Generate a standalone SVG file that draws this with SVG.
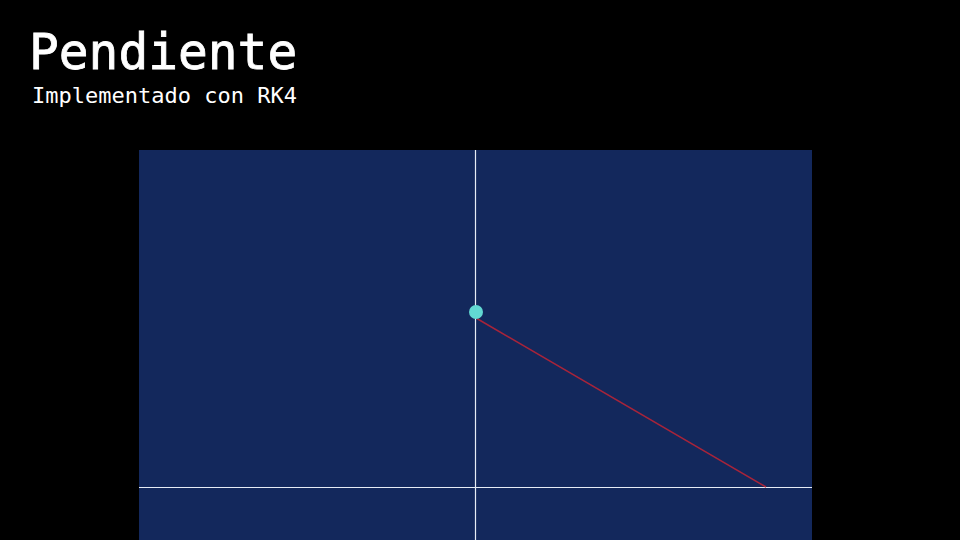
<svg xmlns="http://www.w3.org/2000/svg" width="960" height="540" viewBox="0 0 960 540">
<style>
.t{font-family:"DejaVu Sans Mono","Liberation Mono",monospace;fill:#ffffff}
.axis{stroke:#e6ecf5;stroke-width:1.2}
</style>
<rect x="0" y="0" width="960" height="540" fill="#000000"/>
<text class="t" x="29" y="69" font-size="49.5" stroke="#ffffff" stroke-width="0.8">Pendiente</text>
<text class="t" x="32" y="103" font-size="22">Implementado con RK4</text>
<g id="plot">
<rect x="139" y="150" width="673" height="390" fill="#13285c"/>
</g>
<g id="connectors">
<line class="axis" x1="475.5" y1="150" x2="475.5" y2="540"/>
<line class="axis" x1="139" y1="487.5" x2="812" y2="487.5"/>
<line x1="476" y1="318" x2="766" y2="487" stroke="#a8243a" stroke-width="1.5"/>
</g>
<g id="dot">
<circle cx="476" cy="312" r="7" fill="#62d8d2"/>
</g>
</svg>
